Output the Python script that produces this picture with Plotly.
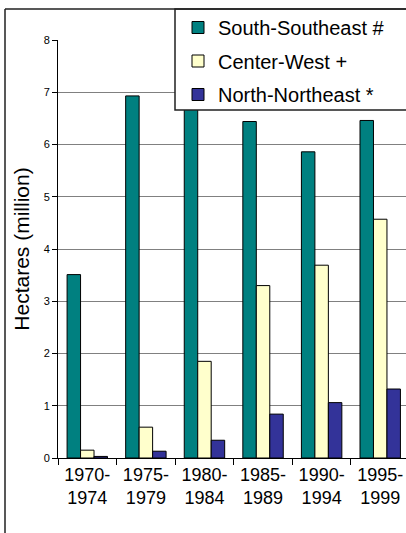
import plotly.graph_objects as go

categories = ["1970-<br>1974", "1975-<br>1979", "1980-<br>1984", "1985-<br>1989", "1990-<br>1994", "1995-<br>1999"]
south_southeast = [3.51, 6.93, 6.75, 6.44, 5.86, 6.46]
center_west = [0.15, 0.59, 1.85, 3.30, 3.69, 4.57]
north_northeast = [0.03, 0.13, 0.34, 0.84, 1.06, 1.32]
series_names = ["South-Southeast #", "Center-West +", "North-Northeast *"]
series_colors = ["#008080", "#FFFFCC", "#333399"]

W, H = 406, 533
L, R, T, B = 58, 0, 40, 75
pw, ph = W - L - R, H - T - B

def px_x(p):
    return (p - L) / pw

def px_y(p):
    return (H - B - p) / ph

FONT = "Liberation Sans, Arial, sans-serif"

fig = go.Figure()
for i, (name, vals, col) in enumerate(zip(series_names, [south_southeast, center_west, north_northeast], series_colors)):
    fig.add_trace(go.Bar(
        x=categories, y=vals, name=name, legendgroup=f"g{i}",
        marker=dict(color=col, line=dict(color="#000000", width=1)),
    ))

fig.update_layout(
    width=W, height=H,
    margin=dict(l=L, r=R, t=T, b=B, autoexpand=False),
    paper_bgcolor="white", plot_bgcolor="white",
    font=dict(family=FONT, color="#000000"),
    barmode="group", bargap=0.31, bargroupgap=0,
    showlegend=True,
    legend=dict(
        x=px_x(178), y=px_y(8), xanchor="left", yanchor="top",
        bgcolor="rgba(0,0,0,0)", borderwidth=0,
        font=dict(size=20, family=FONT, color="#000000"),
        traceorder="grouped", tracegroupgap=4.5, itemwidth=30,
    ),
    xaxis=dict(
        range=[-0.5, 5.44], showgrid=False, showline=True, linecolor="#000000", linewidth=1,
        ticks="outside", tickson="boundaries", ticklen=6, tickcolor="#000000",
        tickfont=dict(size=18), fixedrange=True,
    ),
    yaxis=dict(
        range=[0, 8], dtick=1, showgrid=True, gridcolor="#808080", gridwidth=1,
        showline=True, linecolor="#000000", linewidth=1, zeroline=False,
        ticks="outside", ticklen=5, tickcolor="#000000", tickfont=dict(size=11),
        title=dict(text="Hectares (million)", font=dict(size=21), standoff=8),
        fixedrange=True,
    ),
    shapes=[
        dict(type="rect", xref="paper", yref="paper",
             x0=px_x(175), x1=px_x(420), y0=px_y(110), y1=px_y(9),
             fillcolor="white", line=dict(color="#202020", width=1.5), layer="above"),
        dict(type="line", xref="paper", yref="paper",
             x0=px_x(5), x1=px_x(420), y0=px_y(9), y1=px_y(9),
             line=dict(color="#202020", width=1.5)),
        dict(type="line", xref="paper", yref="paper",
             x0=px_x(5), x1=px_x(5), y0=px_y(9), y1=px_y(545),
             line=dict(color="#202020", width=1.5)),
    ],
)

fig.write_html(
    "out.html",
    config={"displayModeBar": False, "staticPlot": True},
    post_script="document.body.style.margin='0px';document.body.style.padding='0px';document.body.style.overflow='hidden';",
)
